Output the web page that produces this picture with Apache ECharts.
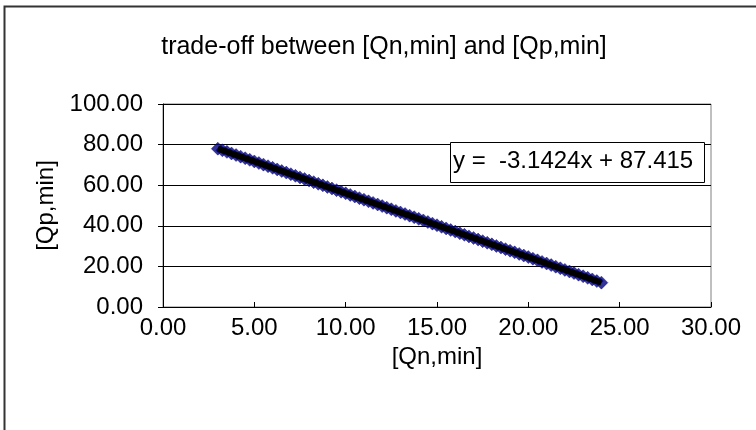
<!DOCTYPE html>
<html>
<head>
<meta charset="utf-8">
<script src="https://cdn.jsdelivr.net/npm/echarts@6/dist/echarts.min.js"></script>
<style>html,body{margin:0;padding:0;background:#fff}#c{width:756px;height:430px}</style>
</head>
<body>
<div id="c"></div>
<script>
var titleText = 'trade-off between [Qn,min] and [Qp,min]';
var xName = '[Qn,min]';
var yName = '[Qp,min]';
var equationText = 'y =  -3.1424x + 87.415';
var qn = [3.00,3.25,3.50,3.75,4.00,4.25,4.50,4.75,5.00,5.25,5.50,5.75,6.00,6.25,6.50,6.75,7.00,7.25,7.50,7.75,8.00,8.25,8.50,8.75,9.00,9.25,9.50,9.75,10.00,10.25,10.50,10.75,11.00,11.25,11.50,11.75,12.00,12.25,12.50,12.75,13.00,13.25,13.50,13.75,14.00,14.25,14.50,14.75,15.00,15.25,15.50,15.75,16.00,16.25,16.50,16.75,17.00,17.25,17.50,17.75,18.00,18.25,18.50,18.75,19.00,19.25,19.50,19.75,20.00,20.25,20.50,20.75,21.00,21.25,21.50,21.75,22.00,22.25,22.50,22.75,23.00,23.25,23.50,23.75,24.00];
var qp = [77.99,77.20,76.42,75.63,74.85,74.06,73.28,72.49,71.70,70.92,70.13,69.35,68.56,67.78,66.99,66.20,65.42,64.63,63.85,63.06,62.28,61.49,60.70,59.92,59.13,58.35,57.56,56.78,55.99,55.20,54.42,53.63,52.85,52.06,51.28,50.49,49.71,48.92,48.13,47.35,46.57,45.78,44.99,44.21,43.42,42.64,41.85,41.07,40.28,39.49,38.71,37.92,37.14,36.35,35.56,34.78,33.99,33.21,32.42,31.64,30.85,30.07,29.28,28.50,27.71,26.92,26.14,25.35,24.57,23.78,22.99,22.21,21.42,20.64,19.85,19.07,18.28,17.50,16.71,15.92,15.14,14.35,13.57,12.78,12.00];
var trendX = [3.00, 24.00];
var trendY = [77.99, 12.00];

var pts = qn.map(function(v,i){return [v, qp[i]];});
var trend = trendX.map(function(v,i){return [v, trendY[i]];});
var font = '"Liberation Sans", Arial, sans-serif';
var chart = echarts.init(document.getElementById('c'));
chart.setOption({
  backgroundColor: '#fff',
  animation: false,
  title: {
    text: titleText, left: 379, top: 30, textAlign: 'center',
    textStyle: {fontFamily: font, fontSize: 25, fontWeight: 'normal', color: '#000'}
  },
  grid: {left: 163, right: 45, top: 104, bottom: 123, show: true, borderColor: '#808080', borderWidth: 1},
  xAxis: {
    type: 'value', min: 0, max: 30, interval: 5,
    name: xName, nameLocation: 'middle', nameGap: 38,
    nameTextStyle: {fontFamily: font, fontSize: 24, color: '#000'},
    axisLine: {show: true, onZero: false, lineStyle: {color: '#000', width: 1}},
    axisTick: {show: true, inside: true, length: 5, lineStyle: {color: '#000'}},
    axisLabel: {formatter: function(v){return v.toFixed(2);}, fontFamily: font, fontSize: 24, color: '#000', margin: 9},
    splitLine: {show: false}
  },
  yAxis: {
    type: 'value', min: 0, max: 100, interval: 20,
    name: yName, nameLocation: 'middle', nameGap: 104, nameRotate: 90,
    nameTextStyle: {fontFamily: font, fontSize: 24, color: '#000'},
    axisLine: {show: true, lineStyle: {color: '#000', width: 1}},
    axisTick: {show: true, inside: false, length: 5, lineStyle: {color: '#000'}},
    axisLabel: {formatter: function(v){return v.toFixed(2);}, fontFamily: font, fontSize: 24, color: '#000', margin: 20},
    splitLine: {show: true, lineStyle: {color: '#000', width: 1}}
  },
  series: [
    {
      type: 'scatter', data: pts, symbol: 'diamond', symbolSize: 13,
      itemStyle: {color: '#000080', borderColor: '#000070', borderWidth: 0.5}, z: 2
    },
    {
      type: 'line', data: trend, symbol: 'none', showSymbol: false,
      lineStyle: {color: '#000', width: 6}, z: 3
    }
  ],
  graphic: [
    {type: 'rect', shape: {x: 4.5, y: 6.5, width: 1000, height: 1000}, style: {fill: 'none', stroke: '#333', lineWidth: 2}, z: 10},
    {type: 'rect', shape: {x: 450.5, y: 142.5, width: 254, height: 40}, style: {fill: '#fff', stroke: '#000', lineWidth: 1}, z: 10},
    {type: 'text', left: 453, top: 149, style: {text: equationText, fontFamily: font, fontSize: 24, fill: '#000'}, z: 11}
  ]
});
</script>
</body>
</html>
